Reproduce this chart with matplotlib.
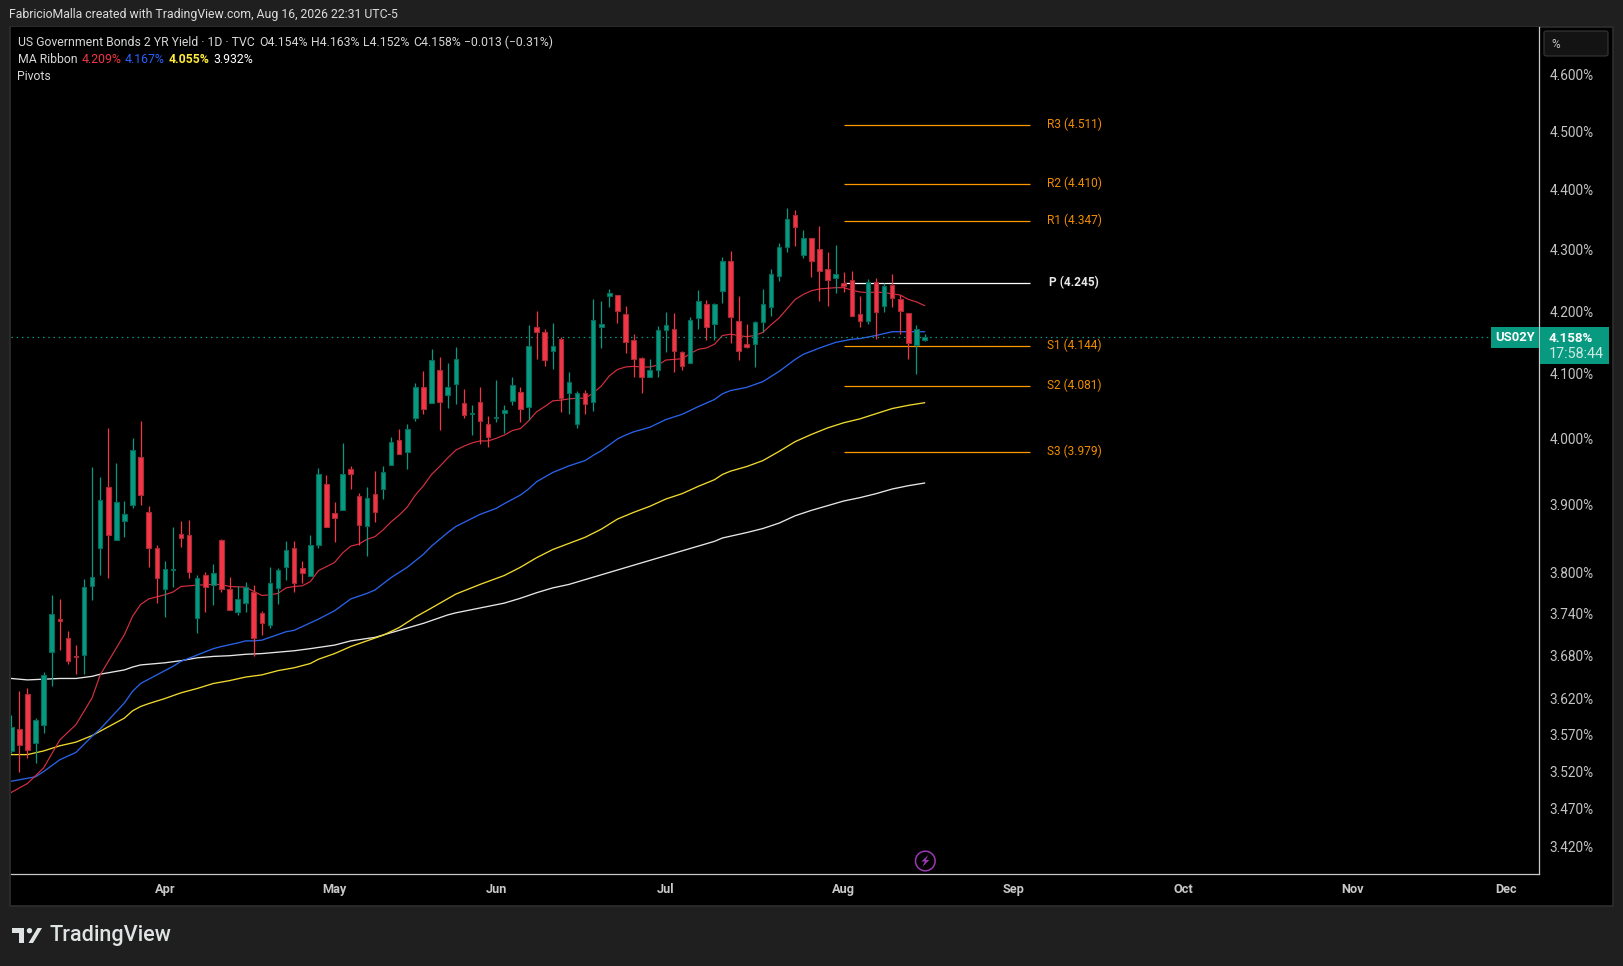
import numpy as np
import matplotlib
matplotlib.use('Agg')
import matplotlib.pyplot as plt
from matplotlib.patches import Circle, FancyBboxPatch, Polygon, Rectangle

# Daily candles, in percent
opens = [3.548, 3.578, 3.626, 3.559, 3.583, 3.685, 3.732, 3.705, 3.680, 3.681, 3.780, 3.835, 3.926, 3.847, 3.875, 3.899, 3.971, 3.888,
         3.835, 3.775, 3.803, 3.856, 3.854, 3.733, 3.795, 3.781, 3.847, 3.775, 3.742, 3.755, 3.771, 3.741, 3.723, 3.777, 3.807, 3.835,
         3.806, 3.794, 3.839, 3.931, 3.887, 3.891, 3.953, 3.912, 3.867, 3.915, 3.923, 3.959, 3.997, 3.979, 4.031, 4.079, 4.054, 4.107,
         4.067, 4.084, 4.054, 4.038, 4.056, 4.022, 4.032, 4.039, 4.057, 4.071, 4.048, 4.174, 4.166, 4.136, 4.155, 4.070, 4.022, 4.070, 4.056,
         4.174, 4.224, 4.226, 4.195, 4.154, 4.125, 4.095, 4.107, 4.169, 4.171, 4.134, 4.117, 4.189, 4.211, 4.179, 4.232, 4.281, 4.184, 4.147,
         4.147, 4.182, 4.206, 4.257, 4.304, 4.357, 4.291, 4.319, 4.301, 4.268, 4.253, 4.245, 4.250, 4.195, 4.184, 4.248, 4.208, 4.242, 4.219,
         4.197, 4.146, 4.154]
highs = [3.597, 3.631, 3.635, 3.593, 3.657, 3.766, 3.761, 3.715, 3.695, 3.790, 3.956, 3.941, 4.016, 3.962, 3.905, 4.000, 4.026, 3.898,
         3.840, 3.816, 3.866, 3.875, 3.877, 3.795, 3.800, 3.812, 3.849, 3.793, 3.780, 3.786, 3.781, 3.744, 3.808, 3.806, 3.845, 3.845,
         3.816, 3.854, 3.955, 3.944, 3.903, 3.993, 3.958, 3.917, 3.926, 3.950, 3.958, 4.002, 4.015, 4.022, 4.086, 4.105, 4.139, 4.127,
         4.118, 4.142, 4.077, 4.052, 4.079, 4.035, 4.091, 4.051, 4.095, 4.079, 4.177, 4.201, 4.171, 4.181, 4.159, 4.103, 4.073, 4.075, 4.219,
         4.217, 4.236, 4.226, 4.208, 4.163, 4.127, 4.124, 4.176, 4.199, 4.197, 4.136, 4.191, 4.234, 4.218, 4.213, 4.288, 4.298, 4.224, 4.179,
         4.184, 4.236, 4.268, 4.311, 4.370, 4.366, 4.332, 4.319, 4.340, 4.297, 4.308, 4.263, 4.265, 4.224, 4.252, 4.253, 4.245, 4.261, 4.226,
         4.197, 4.178, 4.163]
lows = [3.545, 3.519, 3.538, 3.532, 3.572, 3.638, 3.688, 3.669, 3.654, 3.654, 3.759, 3.796, 3.791, 3.847, 3.852, 3.895, 3.899, 3.808,
        3.755, 3.735, 3.779, 3.837, 3.791, 3.712, 3.742, 3.753, 3.771, 3.745, 3.738, 3.742, 3.679, 3.709, 3.720, 3.754, 3.789, 3.771,
        3.784, 3.794, 3.835, 3.866, 3.844, 3.891, 3.923, 3.839, 3.824, 3.874, 3.908, 3.959, 3.976, 3.953, 4.027, 4.038, 4.054, 4.013,
        4.047, 4.053, 4.031, 4.005, 3.992, 3.986, 4.025, 4.008, 4.052, 4.025, 4.028, 4.124, 4.113, 4.108, 4.041, 4.038, 4.016, 4.038, 4.042,
        4.141, 4.207, 4.181, 4.133, 4.095, 4.070, 4.095, 4.095, 4.135, 4.103, 4.106, 4.117, 4.172, 4.154, 4.154, 4.213, 4.149, 4.122, 4.141,
        4.111, 4.167, 4.192, 4.249, 4.297, 4.307, 4.287, 4.255, 4.217, 4.209, 4.230, 4.231, 4.193, 4.175, 4.179, 4.156, 4.199, 4.207, 4.163,
        4.124, 4.100, 4.152]
closes = [3.581, 3.556, 3.549, 3.591, 3.653, 3.739, 3.729, 3.672, 3.678, 3.778, 3.793, 3.906, 3.854, 3.903, 3.886, 3.982, 3.914, 3.835,
          3.791, 3.804, 3.805, 3.850, 3.800, 3.791, 3.778, 3.798, 3.775, 3.745, 3.761, 3.779, 3.705, 3.726, 3.784, 3.803, 3.832, 3.784,
          3.798, 3.840, 3.946, 3.866, 3.879, 3.945, 3.945, 3.869, 3.910, 3.888, 3.949, 3.994, 3.976, 4.014, 4.079, 4.045, 4.122, 4.056,
          4.079, 4.123, 4.036, 4.039, 4.026, 4.002, 4.033, 4.044, 4.083, 4.045, 4.144, 4.166, 4.122, 4.144, 4.062, 4.087, 4.070, 4.053, 4.185,
          4.179, 4.229, 4.200, 4.150, 4.123, 4.095, 4.106, 4.169, 4.177, 4.136, 4.112, 4.186, 4.216, 4.174, 4.211, 4.281, 4.190, 4.136, 4.143,
          4.182, 4.211, 4.260, 4.304, 4.351, 4.337, 4.319, 4.281, 4.265, 4.250, 4.261, 4.240, 4.193, 4.184, 4.247, 4.198, 4.241, 4.221, 4.200,
          4.149, 4.171, 4.158]

# MA Ribbon, read at these bars
red_bars = [0, 2, 4, 6, 8, 10, 11, 13, 14, 15, 16, 17, 18, 19, 20, 21, 22, 23, 25, 26, 27, 29, 30, 31, 32, 33, 34, 35] + list(range(36, 114))
red_ma = [3.492, 3.504, 3.525, 3.563, 3.584, 3.621, 3.653, 3.691, 3.710, 3.736, 3.753, 3.761, 3.764, 3.767, 3.771, 3.779, 3.780, 3.781,
          3.782, 3.782, 3.779, 3.778, 3.772, 3.766, 3.767, 3.769, 3.777, 3.779,
          3.780, 3.786, 3.802, 3.808, 3.814, 3.828, 3.838, 3.841, 3.848, 3.852, 3.862, 3.874, 3.884, 3.896, 3.914, 3.928, 3.945, 3.957,
          3.970, 3.982, 3.988, 3.993, 3.996, 3.996, 4.000, 4.005, 4.012, 4.015, 4.027, 4.041, 4.049, 4.058, 4.059, 4.061, 4.062, 4.062, 4.070,
          4.081, 4.097, 4.107, 4.111, 4.112, 4.111, 4.111, 4.114, 4.122, 4.123, 4.124, 4.132, 4.139, 4.141, 4.147, 4.161, 4.163, 4.161, 4.159,
          4.161, 4.166, 4.178, 4.189, 4.204, 4.219, 4.227, 4.233, 4.236, 4.237, 4.238, 4.238, 4.234, 4.231, 4.230, 4.231, 4.230, 4.228, 4.226,
          4.219, 4.215, 4.209]
blue_bars = [0, 3, 4, 6, 8, 10, 11, 14, 15, 16, 17, 19, 20, 21, 23, 25, 26, 28, 29, 30, 31, 32, 33, 34, 35,
             38, 40, 42, 44, 45, 47, 49, 51, 52, 54, 55, 56, 58, 60, 61, 63, 64, 65, 67, 69, 71, 72,
             73, 74, 75, 76, 77, 79, 81, 83, 85, 87, 88, 89, 91, 93, 95, 97, 98, 100, 102, 104, 105, 107, 109, 110, 111, 112, 113]
blue_ma = [3.507, 3.513, 3.520, 3.536, 3.546, 3.568, 3.578, 3.614, 3.630, 3.641, 3.647, 3.659, 3.665, 3.672, 3.681, 3.690, 3.693, 3.698,
           3.701, 3.701, 3.702, 3.706, 3.710, 3.714, 3.716,
           3.732, 3.744, 3.761, 3.769, 3.774, 3.792, 3.807, 3.826, 3.838, 3.858, 3.867, 3.873, 3.885, 3.894, 3.901, 3.914, 3.923, 3.934,
           3.948, 3.958, 3.966, 3.974,
           3.981, 3.990, 3.999, 4.005, 4.010, 4.017, 4.029, 4.037, 4.049, 4.060, 4.069, 4.074, 4.079, 4.088, 4.104, 4.123, 4.131, 4.141,
           4.150, 4.155, 4.156, 4.161, 4.167, 4.167, 4.167, 4.167, 4.167]
yellow_bars = [0, 2, 4, 6, 8, 10, 11, 14, 15, 16, 17, 19, 21, 23, 25, 27, 29, 31, 33, 34, 35,
               37, 38, 40, 42, 44, 46, 48, 50, 52, 55, 58, 61, 63, 65, 67, 69, 71,
               73, 75, 77, 79, 81, 83, 85, 87, 88, 89, 91, 93, 95, 97, 99, 101, 103, 105, 107, 109, 111, 113]
yellow_ma = [3.543, 3.543, 3.548, 3.555, 3.560, 3.569, 3.575, 3.593, 3.603, 3.609, 3.613, 3.620, 3.628, 3.634, 3.641, 3.645, 3.650, 3.653,
             3.659, 3.661, 3.663,
             3.669, 3.675, 3.683, 3.693, 3.701, 3.709, 3.720, 3.735, 3.748, 3.768, 3.782, 3.795, 3.807, 3.821, 3.833, 3.842, 3.851,
             3.863, 3.878, 3.888, 3.897, 3.908, 3.916, 3.927, 3.937, 3.945, 3.950, 3.957, 3.966, 3.980, 3.995, 4.006, 4.016, 4.024, 4.030,
             4.038, 4.046, 4.051, 4.055]
white_bars = [0, 2, 4, 6, 8, 10, 11, 14, 15, 16, 17, 19, 21, 23, 25, 27, 29, 31, 33, 35,
              37, 40, 42, 45, 48, 51, 54, 55, 58, 61, 63, 65, 67, 69, 71, 73,
              79, 81, 83, 85, 87, 88, 91, 93, 95, 97, 99, 101, 103, 105, 107, 109, 111, 113]
white_ma = [3.648, 3.646, 3.647, 3.648, 3.648, 3.651, 3.654, 3.660, 3.664, 3.667, 3.668, 3.670, 3.673, 3.677, 3.679, 3.680, 3.682, 3.683,
            3.685, 3.687,
            3.690, 3.695, 3.701, 3.706, 3.716, 3.726, 3.738, 3.741, 3.748, 3.755, 3.762, 3.770, 3.777, 3.782, 3.789, 3.796,
            3.817, 3.824, 3.831, 3.838, 3.845, 3.850, 3.858, 3.864, 3.872, 3.883, 3.891, 3.898, 3.905, 3.910, 3.916, 3.923, 3.928, 3.932]

# Pivots
pivot_names = ['R3', 'R2', 'R1', 'P', 'S1', 'S2', 'S3']
pivot_values = [4.511, 4.410, 4.347, 4.245, 4.144, 4.081, 3.979]
pivot_start, pivot_end = 103, 126

# Axis labels
price_ticks = [4.6, 4.5, 4.4, 4.3, 4.2, 4.1, 4.0, 3.9, 3.8, 3.74, 3.68, 3.62, 3.57, 3.52, 3.47, 3.42]
month_names = ['Apr', 'May', 'Jun', 'Jul', 'Aug', 'Sep', 'Oct', 'Nov', 'Dec']
month_bars = [19, 40, 60, 81, 103, 124, 145, 166, 185]
last_price = 4.158

W, H = 1623, 966
BG = '#1f1f1f'
GRID = '#2e2e2e'
UP = '#089981'
DOWN = '#F23645'
UP_EDGE = '#056b5a'
DOWN_EDGE = '#a82a36'
ORANGE = '#FF9800'
TEXT = '#d6d6d6'
FONT = 'Roboto'

plt.rcParams['font.family'] = [FONT, 'DejaVu Sans']
plt.rcParams['font.size'] = 9.2


def fx(px):
    return px / W


def fy(px):
    return 1 - px / H


def box(x0, y0, x1, y1, **kw):
    # rectangle in screen pixels, y going down
    return Rectangle((fx(x0), fy(y1)), fx(x1 - x0), (y1 - y0) / H, transform=fig.transFigure, **kw)


fig = plt.figure(figsize=(W / 100, H / 100), dpi=100, facecolor=BG)

# Black pane with price and time scales
fig.add_artist(box(10, 27, 1613, 906, facecolor='black', edgecolor=GRID, linewidth=1.2, zorder=-5))

ax = fig.add_axes([fx(10.5), fy(874.3), fx(1539.3 - 10.5), (874.3 - 27) / H], facecolor='black')
ax.set_yscale('log')
ax.set_ylim(3.3840, 4.6837)
ax.set_xlim(-0.1, 189.07)

bars = np.arange(len(opens))
opens = np.array(opens)
closes = np.array(closes)
highs = np.array(highs)
lows = np.array(lows)
up = closes >= opens

# MA Ribbon and pivots sit behind the candles
ax.plot(white_bars, white_ma, color='#e6e6e6', lw=0.95, zorder=2)
ax.plot(yellow_bars, yellow_ma, color='#F0D92E', lw=0.95, zorder=2)
ax.plot(blue_bars, blue_ma, color='#2962E8', lw=0.95, zorder=2)
ax.plot(red_bars, red_ma, color='#D5303F', lw=0.85, zorder=2)

for name, value in zip(pivot_names, pivot_values):
    color = 'white' if name == 'P' else ORANGE
    ax.plot([pivot_start, pivot_end], [value, value], color=color, lw=0.9, zorder=2, solid_capstyle='butt')
    ax.annotate('%s (%.3f)' % (name, value), (131.5, value), xytext=(0, 0.7), textcoords='offset points',
                color='#e8e8e8' if name == 'P' else '#F08C00', ha='center', va='center', fontsize=8.6,
                fontweight='bold' if name == 'P' else 'normal', zorder=4)

ax.axhline(last_price, color=UP, lw=0.9, linestyle=(0, (1.2, 3)), zorder=2)

# Candles
ax.vlines(bars[up], lows[up], highs[up], color=UP, lw=0.9, zorder=3)
ax.vlines(bars[~up], lows[~up], highs[~up], color=DOWN, lw=0.9, zorder=3)
ax.bar(bars[up], (closes - opens)[up], bottom=opens[up], width=0.56, color=UP, edgecolor=UP_EDGE, linewidth=0.8, zorder=3)
ax.bar(bars[~up], (opens - closes)[~up], bottom=closes[~up], width=0.56, color=DOWN, edgecolor=DOWN_EDGE, linewidth=0.8, zorder=3)

# Scales
for side in ['top', 'left']:
    ax.spines[side].set_visible(False)
for side in ['right', 'bottom']:
    ax.spines[side].set_color('#c8c8c8')
    ax.spines[side].set_linewidth(0.9)

ax.yaxis.tick_right()
ax.set_yticks(price_ticks)
ax.set_yticklabels(['%.3f%%' % p for p in price_ticks])
ax.minorticks_off()
ax.tick_params(axis='y', which='both', length=0, pad=7.5, labelcolor='#c4c4c4', labelsize=9.8)
ax.set_xticks(month_bars)
ax.set_xticklabels(month_names, fontweight='bold')
ax.tick_params(axis='x', length=0, pad=6, labelcolor='#c8c8c8', labelsize=9.2)

# Header and status lines
fig.text(fx(9.3), fy(14.5), 'FabricioMalla created with TradingView.com, Aug 16, 2026 22:31 UTC-5',
         color='#dcdcdc', va='center', fontsize=8.8)
for x, label in [(17.5, 'US Government Bonds 2 YR Yield · 1D · TVC'), (259, 'O4.154%'), (310.5, 'H4.163%'),
                 (363, 'L4.152%'), (413, 'C4.158%'), (464, '−0.013 (−0.31%)')]:
    fig.text(fx(x), fy(42), label, color=TEXT, va='center', fontsize=8.85)
for x, label, color, weight in [(17.5, 'MA Ribbon', TEXT, 'normal'), (81.5, '4.209%', DOWN, 'normal'),
                                (125, '4.167%', '#2962FF', 'normal'), (168.7, '4.055%', '#FFEB3B', 'bold'),
                                (213, '3.932%', 'white', 'normal')]:
    fig.text(fx(x), fy(59.5), label, color=color, va='center', fontsize=8.85, fontweight=weight)
fig.text(fx(17.5), fy(76), 'Pivots', color=TEXT, va='center', fontsize=8.85)

# Unit box
fig.add_artist(FancyBboxPatch((fx(1544), fy(56)), fx(64), 25 / H, boxstyle='round,pad=0,rounding_size=0.002',
                              transform=fig.transFigure, facecolor='#131313', edgecolor='#333333', linewidth=0.9, zorder=3))
fig.text(fx(1551), fy(44), '%', color='#c8c8c8', va='center', fontsize=8.6, zorder=4)

# Last price tag
fig.add_artist(box(1491, 327, 1539, 348, facecolor=UP, edgecolor='none', zorder=3))
fig.add_artist(box(1540, 327, 1609, 364, facecolor=UP, edgecolor='none', zorder=3))
fig.text(fx(1515), fy(337.5), 'US02Y', color='white', ha='center', va='center', fontsize=9.4, fontweight='bold', zorder=4)
fig.text(fx(1549), fy(338), '%.3f%%' % last_price, color='white', va='center', fontsize=9.6, fontweight='bold', zorder=4)
fig.text(fx(1549), fy(354), '17:58:44', color='#cfe9e3', va='center', fontsize=10.4, zorder=4)

# Lightning marker
ax_icon = fig.add_axes([fx(914), fy(872), fx(22.6), 22 / H], facecolor='none')
ax_icon.set_xlim(-11.3, 11.3)
ax_icon.set_ylim(-11, 11)
ax_icon.axis('off')
ax_icon.add_patch(Circle((0, 0), 9.8, facecolor='none', edgecolor='#9C38B5', linewidth=1.1))
ax_icon.add_patch(Polygon([(3, 6), (-4, -0.5), (-0.5, -0.5), (-3, -6), (4, 1), (0.5, 1)], facecolor='#9C38B5', edgecolor='none'))

# TradingView logo
logo = '#dfe3e3'
ax_logo = fig.add_axes([0, 0, 1, 1], facecolor='none')
ax_logo.set_xlim(0, W)
ax_logo.set_ylim(H, 0)
ax_logo.axis('off')
ax_logo.add_patch(Polygon([(12, 928), (24, 928), (24, 943), (19, 943), (19, 933), (12, 933)], facecolor=logo, edgecolor='none'))
ax_logo.add_patch(Circle((29.5, 930.7), 2.7, facecolor=logo, edgecolor='none'))
ax_logo.add_patch(Polygon([(37.5, 928), (42, 928), (33, 943), (28.5, 943)], facecolor=logo, edgecolor='none'))
ax_logo.text(49, 936, 'TradingView', color=logo, va='center', fontsize=15.6, fontweight='medium')

fig.savefig('out.png', dpi=100, facecolor=BG)
